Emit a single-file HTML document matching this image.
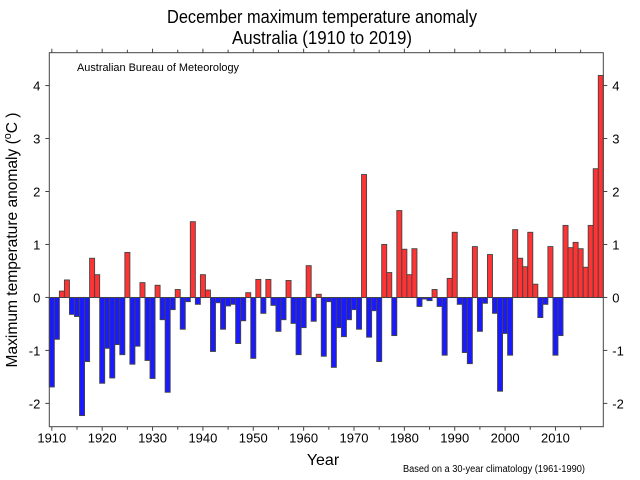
<!DOCTYPE html>
<html><head><meta charset="utf-8"><style>
body{margin:0;background:#fff;}
svg{display:block;font-family:"Liberation Sans",Arial,sans-serif;}
</style></head><body>
<svg id="chart" width="640" height="480" viewBox="0 0 640 480">
<rect width="640" height="480" fill="#fff"/>
<text x="322" y="23" font-size="18" text-anchor="middle" textLength="310" lengthAdjust="spacingAndGlyphs">December maximum temperature anomaly</text>
<text x="322" y="44" font-size="18" text-anchor="middle" textLength="180" lengthAdjust="spacingAndGlyphs">Australia (1910 to 2019)</text>
<text x="77" y="71" font-size="11" textLength="162" lengthAdjust="spacingAndGlyphs">Australian Bureau of Meteorology</text>
<text transform="translate(17,240) rotate(-90)" font-size="16" text-anchor="middle" textLength="255" lengthAdjust="spacingAndGlyphs">Maximum temperature anomaly (<tspan font-size="11" dy="-6">o</tspan><tspan dy="6">C )</tspan></text>
<text x="323" y="465" font-size="16" text-anchor="middle">Year</text>
<text x="494" y="472" font-size="10" text-anchor="middle" textLength="182" lengthAdjust="spacingAndGlyphs">Based on a 30-year climatology (1961-1990)</text>
<g id="bars"></g>
<g id="axes"></g>
</svg>
<script>
const years = [];
for (let y = 1910; y <= 2019; y++) years.push(y);
const anomalies = [
-1.69,-0.79,0.12,0.33,-0.32,-0.36,-2.23,-1.21,0.74,0.43,
-1.62,-0.96,-1.52,-0.89,-1.08,0.85,-1.26,-0.92,0.28,-1.19,
-1.53,0.23,-0.42,-1.79,-0.23,0.15,-0.60,-0.08,1.43,-0.13,
0.43,0.14,-1.02,-0.10,-0.60,-0.16,-0.13,-0.87,-0.44,0.09,
-1.15,0.34,-0.30,0.34,-0.15,-0.64,-0.42,0.32,-0.49,-1.08,
-0.57,0.60,-0.45,0.06,-1.11,-0.08,-1.32,-0.57,-0.74,-0.42,
-0.23,-0.60,2.32,-0.75,-0.25,-1.21,1.00,0.47,-0.72,1.64,
0.91,0.43,0.92,-0.17,-0.03,-0.06,0.15,-0.17,-1.09,0.36,
1.23,-0.13,-1.04,-1.25,0.96,-0.64,-0.11,0.81,-0.30,-1.77,
-0.68,-1.09,1.28,0.74,0.58,1.23,0.25,-0.38,-0.13,0.96,
-1.09,-0.72,1.36,0.94,1.04,0.92,0.57,1.36,2.43,4.19];
const yTicks = [-2,-1,0,1,2,3,4];
const xTicks = [1910,1920,1930,1940,1950,1960,1970,1980,1990,2000,2010];

const L=49.3, R=603.3, T=52.7, B=426.7;
const yMin=-2.44, yMax=4.62;
const bw = (R-L)/110;
const xs = yr => L + (yr-1910)*bw;
const ys = v => B - (v-yMin)/(yMax-yMin)*(B-T);
const NS="http://www.w3.org/2000/svg";
function mk(tag, attrs, parent){const e=document.createElementNS(NS,tag);for(const k in attrs)e.setAttribute(k,attrs[k]);parent.appendChild(e);return e;}
const bars=document.getElementById('bars'), axes=document.getElementById('axes');
years.forEach((yr,i)=>{
  const v=anomalies[i], y0=ys(0), y1=ys(v);
  const r=mk('rect',{x:xs(yr),y:Math.min(y0,y1),width:bw,height:Math.abs(y1-y0),fill:v>=0?'#ff3333':'#1a1aff',stroke:'#444','stroke-width':0.9},bars);
  
  
});
const fr=mk('rect',{x:L,y:T,width:R-L,height:B-T,fill:'none',stroke:'#444','stroke-width':1},axes);


const zl=mk('line',{x1:L,x2:R,y1:ys(0),y2:ys(0),stroke:'#444','stroke-width':1},axes);


yTicks.forEach(t=>{
  const y=ys(t);
  mk('line',{x1:L-4,x2:L,y1:y,y2:y,stroke:'#444'},axes);
  mk('line',{x1:R,x2:R+4,y1:y,y2:y,stroke:'#444'},axes);
  const a=mk('text',{x:L-9,y:y+5,'font-size':13,'text-anchor':'end'},axes);a.textContent=t;
  
  
  const b=mk('text',{x:R+9,y:y+5,'font-size':13},axes);b.textContent=t;
  
  
});
for(let yr=1910; yr<=2015; yr+=5){
  const x=xs(yr)+bw/2, major=yr%10===0;
  mk('line',{x1:x,x2:x,y1:B,y2:B+(major?4:3),stroke:'#444'},axes);
  mk('line',{x1:x,x2:x,y1:T,y2:T-(major?4:3),stroke:'#444'},axes);
}
xTicks.forEach(yr=>{
  const t=mk('text',{x:xs(yr)+bw/2,y:B+16,'font-size':13,'text-anchor':'middle'},axes);t.textContent=yr;
  
  
});
</script>
</body></html>
